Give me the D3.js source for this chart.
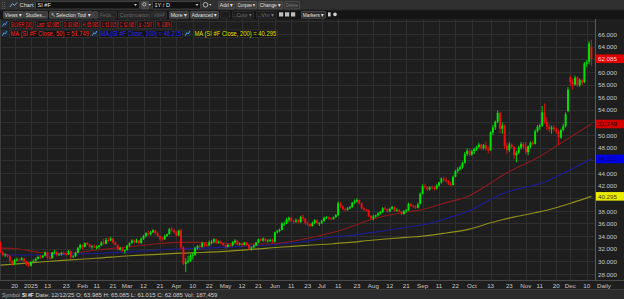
<!DOCTYPE html>
<html><head><meta charset="utf-8">
<script src="https://cdn.jsdelivr.net/npm/d3@7/dist/d3.min.js"></script>
<style>
html,body{margin:0;padding:0;background:#1e1e1e;overflow:hidden}
svg{display:block;font-family:"Liberation Sans",Arial,sans-serif}
</style></head><body>
<svg id="chart" width="624" height="299"></svg>
<script>
// ---------------- DATA ----------------
const holidays = ["2024-12-25","2025-01-01","2025-02-17","2025-04-18","2025-05-26","2025-06-19","2025-07-04","2025-09-01","2025-11-27"];
const opens = [32.9,31.4,31.0,31.1,30.8,30.0,29.6,30.2,30.3,30.2,
 30.5,30.0,29.6,29.3,29.9,30.1,30.4,30.7,30.6,30.9,
 31.4,30.6,30.5,31.4,31.5,31.0,31.1,31.3,31.2,31.1,
 31.6,30.7,30.8,31.4,32.1,32.6,32.3,32.9,32.7,32.3,
 32.4,32.2,32.3,32.5,33.0,32.8,33.4,33.3,33.6,33.0,
 32.6,31.9,32.1,31.7,31.8,32.5,32.9,33.3,33.0,33.3,
 32.9,33.6,34.0,34.5,34.3,34.6,34.9,34.5,34.0,33.6,
 33.5,34.0,34.3,35.1,34.9,34.6,34.1,34.9,32.2,29.6,
 29.9,30.1,30.9,31.0,32.1,32.4,32.3,32.9,32.6,32.5,
 33.0,33.1,33.5,33.0,33.1,32.9,32.6,32.3,32.6,32.5,
 33.0,33.3,32.7,32.8,32.6,33.0,32.6,32.0,32.2,32.5,
 33.0,33.5,33.3,33.6,33.2,33.3,33.4,33.1,34.6,34.8,
 35.0,36.0,36.0,36.6,36.9,36.4,36.3,36.5,36.2,37.0,
 36.8,36.0,35.9,35.6,36.1,36.5,36.0,36.1,36.4,36.9,
 37.0,36.8,36.7,37.0,37.3,39.2,38.7,38.3,38.2,38.4,
 38.6,39.3,39.5,39.7,39.2,38.4,38.2,38.1,37.2,36.8,
 37.1,37.3,37.6,37.8,38.4,38.3,37.9,38.3,38.6,38.0,
 38.1,37.9,37.5,38.0,38.1,39.1,38.8,38.7,38.5,39.1,
 40.7,41.9,41.8,41.4,41.7,41.6,41.5,42.0,42.5,43.1,
 42.9,42.7,42.3,42.1,43.4,44.3,44.6,44.9,45.6,47.0,
 47.5,46.9,47.4,47.8,48.1,48.5,47.9,48.4,47.8,47.6,
 50.4,51.2,52.1,53.5,51.0,51.5,48.3,47.6,48.5,48.1,
 46.8,47.2,48.0,48.6,48.1,47.3,48.2,48.8,48.6,50.6,
 51.3,51.5,53.6,52.1,51.3,50.9,51.2,50.9,50.5,49.6,
 50.8,51.4,53.8,59.2,58.4,58.0,59.1,57.9,58.7,58.4,
 61.3,61.6,63.985];
const highs = [33.2,31.6,31.3,31.2,31.0,30.2,30.4,30.6,30.5,30.7,
 30.6,30.1,29.8,30.0,30.3,30.6,30.9,31.0,31.0,31.6,
 31.5,30.9,31.5,31.8,31.6,31.3,31.5,31.6,31.4,31.8,
 31.7,31.0,31.5,32.3,32.8,32.7,33.0,33.1,32.8,32.6,
 32.7,32.5,32.6,33.2,33.6,33.7,33.8,33.9,33.7,33.2,
 32.7,32.3,32.2,31.9,32.6,33.0,33.5,33.5,33.6,33.4,
 33.8,34.2,34.6,34.9,34.8,35.1,35.0,34.7,34.1,33.9,
 34.2,34.4,35.3,35.5,35.2,34.8,35.0,35.2,32.4,30.5,
 30.9,31.2,31.4,32.3,32.6,32.7,33.1,33.0,32.9,33.3,
 33.4,33.7,33.6,33.3,33.3,33.0,32.7,32.8,32.8,33.2,
 33.5,33.4,33.0,33.0,33.1,33.1,32.7,32.4,32.7,33.1,
 33.6,33.7,33.8,33.7,33.5,33.6,33.6,34.7,35.0,35.2,
 36.2,36.3,36.9,37.1,37.0,36.6,36.8,36.7,37.2,37.4,
 36.9,36.3,36.0,36.3,36.7,36.6,36.2,36.6,37.1,37.2,
 37.1,37.0,37.1,37.5,39.5,39.4,38.9,38.5,38.6,38.8,
 39.4,39.8,40.0,39.8,39.3,38.6,38.3,38.2,37.3,37.4,
 37.4,37.8,38.0,38.6,38.7,38.4,38.5,38.8,38.7,38.4,
 38.3,38.0,38.1,38.3,39.3,39.2,39.0,38.9,39.3,40.9,
 42.2,42.3,41.9,41.9,42.0,41.9,42.2,42.6,43.3,43.4,
 43.3,42.9,42.6,43.6,44.5,44.9,45.2,45.8,47.3,47.9,
 47.8,47.7,48.0,48.3,48.8,48.6,48.6,49.0,48.2,50.6,
 51.6,52.3,53.9,53.7,52.0,51.7,48.8,48.9,48.7,48.3,
 47.5,48.3,48.9,48.9,48.9,48.4,49.0,49.1,50.9,51.6,
 51.8,54.6,55.0,52.8,51.8,51.5,51.6,51.2,50.9,51.0,
 51.8,53.6,57.6,59.4,58.9,59.4,59.3,59.0,58.9,61.6,
 61.9,64.9,65.085];
const lows = [31.3,30.8,30.7,30.6,29.8,29.3,29.4,30.0,30.0,30.1,
 29.9,29.3,29.1,29.2,29.7,29.9,30.3,30.4,30.5,30.8,
 30.4,30.3,30.4,31.2,30.8,30.9,30.9,31.0,30.9,31.0,
 30.4,30.5,30.7,31.3,31.9,31.9,32.2,32.5,32.1,32.0,
 32.1,31.9,32.0,32.4,32.6,32.7,33.1,33.2,32.8,32.5,
 31.7,31.7,31.5,31.2,31.7,32.3,32.8,32.8,32.9,32.7,
 32.8,33.4,33.8,34.0,34.1,34.5,34.2,33.8,33.3,33.2,
 33.4,33.9,34.2,34.7,34.4,33.9,34.0,31.9,29.4,28.3,
 29.7,29.9,30.3,30.9,31.8,32.0,32.2,32.3,32.3,32.4,
 32.7,32.9,32.8,32.8,32.7,32.4,32.0,32.2,32.3,32.4,
 32.8,32.5,32.5,32.3,32.5,32.4,31.8,31.7,32.1,32.4,
 32.9,33.2,33.1,33.0,33.0,33.1,32.9,33.0,34.4,34.6,
 34.9,35.6,35.9,36.2,36.2,36.0,36.1,36.0,36.1,36.4,
 35.8,35.6,35.4,35.5,35.9,35.8,35.6,35.9,36.3,36.7,
 36.6,36.5,36.6,36.9,37.2,38.5,38.1,37.9,38.0,38.2,
 38.5,39.1,39.3,39.0,38.2,38.0,37.9,37.0,36.6,36.5,
 36.9,37.1,37.4,37.7,38.1,37.7,37.8,38.2,37.9,37.9,
 37.8,37.3,37.4,37.7,38.0,38.6,38.4,38.3,38.4,39.0,
 40.6,41.5,41.1,41.2,41.4,41.2,41.4,41.8,42.3,42.6,
 42.5,42.1,41.9,42.0,43.3,44.0,44.4,44.7,45.5,46.7,
 46.6,46.7,47.0,47.5,47.9,47.6,47.7,47.5,47.1,47.5,
 50.0,50.8,51.9,50.3,50.2,47.8,47.0,47.3,47.8,46.2,
 45.7,47.0,47.7,47.8,47.0,46.8,47.9,48.4,48.5,50.4,
 50.8,51.3,51.8,50.8,50.5,50.2,50.6,50.2,48.4,49.4,
 50.6,51.2,53.6,57.8,57.2,57.8,57.6,57.6,57.9,58.2,
 60.8,61.2,61.015];
const closes = [31.5,31.0,31.1,30.8,30.0,29.7,30.2,30.3,30.2,30.5,
 30.0,29.5,29.3,29.9,30.0,30.4,30.7,30.6,30.9,31.4,
 30.6,30.5,31.4,31.5,31.0,31.1,31.3,31.2,31.1,31.6,
 30.7,30.8,31.4,32.1,32.6,32.3,32.9,32.7,32.3,32.4,
 32.2,32.3,32.5,33.0,32.8,33.4,33.3,33.6,33.0,32.6,
 31.9,32.1,31.7,31.8,32.5,32.9,33.3,33.0,33.3,32.9,
 33.6,34.0,34.5,34.3,34.6,34.9,34.5,34.0,33.6,33.5,
 34.0,34.3,35.1,34.9,34.6,34.1,34.9,32.2,29.6,29.9,
 30.1,30.9,31.0,32.1,32.4,32.3,32.9,32.6,32.5,33.0,
 33.1,33.5,33.0,33.1,32.9,32.6,32.3,32.6,32.5,33.0,
 33.3,32.7,32.8,32.6,33.0,32.6,32.0,32.2,32.5,33.0,
 33.5,33.3,33.6,33.2,33.3,33.4,33.1,34.6,34.8,35.0,
 36.0,36.0,36.6,36.9,36.4,36.3,36.5,36.2,37.0,36.8,
 36.0,35.9,35.6,36.1,36.5,36.0,36.1,36.4,36.9,37.0,
 36.8,36.7,37.0,37.3,39.2,38.7,38.3,38.2,38.4,38.6,
 39.3,39.5,39.7,39.2,38.4,38.2,38.1,37.2,36.8,37.1,
 37.3,37.6,37.8,38.4,38.3,37.9,38.3,38.6,38.0,38.1,
 37.9,37.5,38.0,38.1,39.1,38.8,38.7,38.5,39.0,40.7,
 41.9,41.8,41.4,41.7,41.6,41.5,42.0,42.5,43.1,42.9,
 42.7,42.3,42.1,43.4,44.3,44.6,44.9,45.6,47.0,47.5,
 46.9,47.4,47.8,48.1,48.5,47.9,48.4,47.8,47.6,50.4,
 51.2,52.1,53.5,51.0,51.5,48.3,47.6,48.5,48.1,46.8,
 47.2,48.0,48.6,48.1,47.3,48.2,48.8,48.6,50.6,51.3,
 51.5,53.6,52.1,51.3,50.9,51.2,50.9,50.5,49.6,50.8,
 51.4,53.3,57.2,58.4,58.0,59.1,57.9,58.7,58.2,61.3,
 61.5,64.5,62.085];

const maDates = ["2024-12-12","2024-12-23","2025-01-08","2025-01-23","2025-02-11","2025-03-04","2025-03-20","2025-04-03","2025-04-16","2025-05-07","2025-05-28","2025-06-18","2025-07-09","2025-07-18","2025-07-30","2025-08-07","2025-08-21","2025-09-02","2025-09-16","2025-09-30","2025-10-13","2025-10-20","2025-10-28","2025-11-07","2025-11-14","2025-11-21","2025-12-02","2025-12-12"];
const ma50  = [32.1,32.0,31.4,31.25,31.8,32.3,32.8,33.0,33.0,32.8,32.75,33.5,34.6,35.4,36.5,37.1,37.8,38.2,39.3,40.4,42.4,43.6,44.8,46.2,47.3,48.5,49.9,51.749];
const ma100 = [31.0,31.0,31.0,31.1,31.25,31.5,31.8,32.0,32.1,32.3,32.6,33.1,33.9,34.1,34.5,34.8,35.4,35.8,36.8,38.0,39.8,40.7,41.4,42.1,42.7,43.6,44.7,46.215];
const ma200 = [29.4,29.6,29.9,30.2,30.5,30.9,31.1,31.3,31.4,31.7,32.1,32.5,32.8,33.0,33.3,33.5,33.8,34.0,34.5,35.1,36.1,36.6,37.1,37.7,38.1,38.6,39.3,40.295];

const gridValues = [28,30,32,34,36,38,40,42,44,46,48,50,52,54,56,58,60,62,64,66,68];
const yTicks = [28,30,32,34,36,38,42,44,48,50,54,56,58,60,64,66]; // labels not hidden by value boxes
const xTickDates = ["2024-12-20","2025-01-02","2025-01-13","2025-01-23","2025-02-03","2025-02-11","2025-02-21","2025-03-03","2025-03-12","2025-03-21","2025-04-01","2025-04-10","2025-04-22","2025-05-01","2025-05-12","2025-05-21","2025-06-02","2025-06-11","2025-06-23","2025-07-01","2025-07-11","2025-07-23","2025-08-01","2025-08-12","2025-08-21","2025-09-02","2025-09-11","2025-09-22","2025-10-01","2025-10-13","2025-10-23","2025-11-03","2025-11-11","2025-11-20","2025-12-01","2025-12-10"];
const xTickLabels = ["20","2025","13","23","Feb","11","21","Mar","12","21","Apr","10","22","May","12","21","Jun","11","23","Jul","11","23","Aug","12","21","Sep","11","22","Oct","13","23","Nov","11","20","Dec","10"];

const legendQuote = ["SILVER [10]","Last: 62.085","O: 63.985","H: 65.085","L: 61.015","C: 62.085","\u0394: -2.507","%: -3.88%"];
const legendMA = ["MA (SI #F Close, 50) = 51.749","MA (SI #F Close, 100) = 46.215","MA (SI #F Close, 200) = 40.295"];
const lastValues = {last:62.085, ma50:51.749, ma100:46.215, ma200:40.295};

// ---------------- SETUP ----------------
const FONT = '"Liberation Sans",Arial,sans-serif';
const fmt = d3.utcFormat("%Y-%m-%d");
const days = d3.utcDays(new Date(Date.UTC(2024,11,12)), new Date(Date.UTC(2025,11,13)))
  .filter(d => { const w = d.getUTCDay(); return w !== 0 && w !== 6 && !holidays.includes(fmt(d)); })
  .map(fmt);

const svg = d3.select("#chart");
const PL = 0, PR = 595, PT = 19, PB = 280.5;

const x = d3.scaleBand().domain(days).range([-0.67, 592.6]);
const xc = d => x(d) + x.bandwidth() / 2;
const y = d3.scaleLinear().domain([28, 66]).range([274, 34]);

// text that is squeezed horizontally to fit a width
function fitText(parent, x0, yMid, w, label, fs, fill, bold) {
  const t = parent.append("text").attr("x",0).attr("y",0).attr("dy","0.35em")
    .attr("fill",fill).style("font-size",fs+"px").style("font-family",FONT).text(label);
  if (bold) t.style("font-weight","bold");
  const nat = t.node().getComputedTextLength();
  const s = nat > w ? w / nat : 1;
  t.attr("transform",`translate(${x0},${yMid}) scale(${s.toFixed(3)},1)`);
  return t;
}

svg.append("rect").attr("width",624).attr("height",299).attr("fill","#1e1e1e");

// grid
const grid = svg.append("g");
gridValues.forEach(v => {
  const yy = Math.round(y(v)) + 0.5;
  if (yy > PT + 1) grid.append("line").attr("x1",PL).attr("x2",PR).attr("y1",yy).attr("y2",yy).attr("stroke","#2f2f2f");
});
xTickDates.forEach(d => {
  const xx = Math.round(xc(d)) + 0.5;
  grid.append("line").attr("x1",xx).attr("x2",xx).attr("y1",PT).attr("y2",PB).attr("stroke","#2f2f2f");
});

// frame lines
svg.append("line").attr("x1",PR+0.5).attr("x2",PR+0.5).attr("y1",PT).attr("y2",PB).attr("stroke","#5a5a5a");
svg.append("line").attr("x1",0).attr("x2",624).attr("y1",PB).attr("y2",PB).attr("stroke","#4a4a4a");
svg.append("line").attr("x1",0.5).attr("x2",0.5).attr("y1",PT).attr("y2",PB).attr("stroke","#3a3a3a");

// clip
svg.append("clipPath").attr("id","clip").append("rect").attr("x",PL).attr("y",PT).attr("width",PR-PL).attr("height",PB-PT);
const plotG = svg.append("g").attr("clip-path","url(#clip)");

// MA lines
const line = d3.line().curve(d3.curveMonotoneX);
[[ma50,"#8c1a1a"],[ma100,"#1c1c98"],[ma200,"#8f8f1c"]].forEach(([arr,col]) => {
  plotG.append("path").attr("d", line(maDates.map((d,i)=>[xc(d), y(arr[i])])))
    .attr("fill","none").attr("stroke",col).attr("stroke-width",1.1);
});

// candles
const candles = days.map((d,i)=>({d,o:opens[i],h:highs[i],l:lows[i],c:closes[i]}));
const cg = plotG.append("g");
candles.forEach(k => {
  const up = k.c >= k.o;
  const col = up ? "#00e600" : "#f01010";
  const cx = xc(k.d);
  cg.append("line").attr("x1",cx).attr("x2",cx).attr("y1",y(k.h)).attr("y2",y(k.l)).attr("stroke",col).attr("stroke-width",0.9);
  const top = y(Math.max(k.o,k.c)), bot = y(Math.min(k.o,k.c));
  cg.append("rect").attr("x",cx-0.95).attr("width",1.9).attr("y",top).attr("height",Math.max(0.9,bot-top)).attr("fill",col);
});

// right axis
const yAxis = d3.axisRight(y).tickValues(yTicks).tickFormat(d3.format(".3f")).tickSize(0).tickPadding(0);
const ya = svg.append("g").attr("transform","translate(598,0)").call(yAxis);
ya.select(".domain").remove();
ya.selectAll("text").attr("fill","#c8c8c8").style("font-size","6.2px").style("font-family",FONT).attr("x",0).attr("dy","0.35em");

// value boxes
const boxes = [
  [lastValues.last,"#e00000","#ffd8d8"],
  [lastValues.ma50,"#d40000","#2a0000"],
  [lastValues.ma100,"#0000e6","#000070"],
  [lastValues.ma200,"#eaea00","#3a3a00"]
];
boxes.forEach(([v,bg,fg]) => {
  const yy = y(v);
  svg.append("rect").attr("x",596).attr("y",yy-4.3).attr("width",28).attr("height",8.6).attr("fill",bg);
  svg.append("text").attr("x",598).attr("y",yy).attr("dy","0.35em").attr("fill",fg)
    .style("font-size","6.2px").style("font-family",FONT).text(d3.format(".3f")(v));
});

// bottom axis
const xAxis = d3.axisBottom(x).tickValues(xTickDates).tickFormat((d,i)=>xTickLabels[i]).tickSize(0).tickPadding(0);
const xa = svg.append("g").attr("transform","translate(0,283.3)").call(xAxis);
xa.select(".domain").remove();
xa.selectAll("text").attr("fill","#c8c8c8").style("font-size","6.2px").style("font-family",FONT).attr("y",0).attr("dy","0.71em");
svg.append("text").attr("x",604).attr("y",283.3).attr("dy","0.71em").attr("text-anchor","middle").attr("fill","#c8c8c8")
  .style("font-size","6.2px").style("font-family",FONT).text("Daily");

// ---------------- HEADER ----------------
const hdr = svg.append("g");
hdr.append("rect").attr("x",0).attr("y",0).attr("width",624).attr("height",10).attr("fill","#303030");
hdr.append("rect").attr("x",0).attr("y",10).attr("width",624).attr("height",9).attr("fill","#151515");
hdr.append("line").attr("x1",0).attr("x2",624).attr("y1",10).attr("y2",10).attr("stroke","#222");

function btn(x0, y0, w, h, label, opt={}) {
  hdr.append("rect").attr("x",x0+0.5).attr("y",y0+0.5).attr("width",w).attr("height",h)
    .attr("fill",opt.fill||"#3c3c3c").attr("stroke",opt.stroke||"#5a5a5a").attr("stroke-width",0.6).attr("rx",0.6);
  if (label) fitText(hdr, x0+(opt.pad||1.8), y0+h/2+0.5, w-(opt.pad||1.8)-1.2, label, opt.fs||5.6, opt.color||"#e2e2e2");
}
// grip + icon
[2,4].forEach(xx=>[2,4,6,8].forEach(yy=>hdr.append("rect").attr("x",xx).attr("y",yy).attr("width",0.8).attr("height",0.8).attr("fill","#777")));
hdr.append("path").attr("d","M10,7 L12.5,3.5 L14.5,5.5 L17,2.5").attr("stroke","#7fb2e6").attr("fill","none").attr("stroke-width",0.9);
fitText(hdr, 19.5, 5.3, 14, "Chart", 6, "#dcdcdc");
btn(35,1,104,7.5,"SI #F",{fill:"#111",stroke:"#555",pad:2.5});
hdr.append("path").attr("d","M134,4 L137,4 L135.5,6 Z").attr("fill","#ccc");
btn(141,1,7,7.5,"",{fill:"#444"});
hdr.append("circle").attr("cx",144.3).attr("cy",4.3).attr("r",1.6).attr("fill","none").attr("stroke","#ddd").attr("stroke-width",0.7);
hdr.append("path").attr("d","M148.5,4 L151,4 L149.75,5.8 Z").attr("fill","#ccc");
btn(152,1,48,7.5,"1Y / D",{fill:"#111",stroke:"#555",pad:2.5});
hdr.append("path").attr("d","M195.5,4 L198.5,4 L197,6 Z").attr("fill","#ccc");
hdr.append("circle").attr("cx",205.5).attr("cy",4.8).attr("r",2.3).attr("fill","none").attr("stroke","#ccc").attr("stroke-width",0.8);
hdr.append("path").attr("d","M209,4 L211.5,4 L210.25,5.8 Z").attr("fill","#ccc");
btn(218,1,16,7.5,"Add \u25BE");
btn(236,1,20,7.5,"Compare \u25BE");
btn(258,1,24,7.5,"Change \u25BE");
btn(284,1,15,7.5,"Delete",{color:"#7a7a7a",fill:"#333"});

// toolbar row 2
btn(3,11,20,6.8,"Views \u25BE");
btn(24,11,23,6.8,"Studies...");
btn(49,11,43,6.8,"\u2196 Selection Tool \u25BE");
btn(93,11,4,6.8,"");
btn(98,11,18,6.8,"Fields...",{color:"#6a6a6a",fill:"#242424",stroke:"#3a3a3a"});
btn(118,11,33,6.8,"Continuation",{color:"#6a6a6a",fill:"#242424",stroke:"#3a3a3a"});
btn(152,11,14,6.8,"VWAP",{color:"#6a6a6a",fill:"#242424",stroke:"#3a3a3a"});
btn(169,11,19,6.8,"More \u25BE");
btn(190,11,28,6.8,"Advanced \u25BE");
btn(220,11,9,6.8,"",{fill:"#1c1c1c",stroke:"#3a3a3a"});
btn(232,11,21,6.8,"\u25A1Color \u25BE",{color:"#777",fill:"#1c1c1c",stroke:"#3a3a3a"});
btn(256,11,20,6.8,"\u25A1Vm \u25BE",{color:"#777",fill:"#1c1c1c",stroke:"#3a3a3a"});
[279,285,291].forEach(xx=>{hdr.append("rect").attr("x",xx).attr("y",12.3).attr("width",4.2).attr("height",4.2).attr("fill","#bdbdbd");});
btn(301,11,24,6.8,"Markers \u25BE",{fill:"#2c2c2c"});
hdr.append("rect").attr("x",328).attr("y",12.4).attr("width",2.6).attr("height",4).attr("fill","#cfcfcf");
hdr.append("circle").attr("cx",335).attr("cy",14.4).attr("r",1.8).attr("fill","#cfcfcf");

// ---------------- LEGEND ----------------
const lg = svg.append("g");
function icon(x0,y0){
  lg.append("rect").attr("x",x0).attr("y",y0).attr("width",6).attr("height",7).attr("fill","#1e2c3a");
  lg.append("path").attr("d",`M${x0+0.8},${y0+6} L${x0+2.5},${y0+3} L${x0+3.8},${y0+4.3} L${x0+5.5},${y0+1.2}`).attr("stroke","#5aa0e0").attr("fill","none").attr("stroke-width",0.9);
}
function legBox(x0,y0,w,label,col){
  lg.append("rect").attr("x",x0+0.5).attr("y",y0+0.5).attr("width",w).attr("height",7.4).attr("fill","#141414").attr("stroke","#3e3e3e").attr("stroke-width",0.6);
  fitText(lg, x0+1.4, y0+4.4, w-2.2, label, 6.6, col);
}
icon(1.5,20.5);
const qX = [9,35,62,81,100,118,137,155], qW = [24,25,17,18,17,17,16,16];
legendQuote.forEach((t,i)=>legBox(qX[i],20.3,qW[i],t,"#ff2424"));
icon(1.5,29.7);
legBox(9,29.5,81,legendMA[0],"#ff2424");
icon(91.5,29.7);
legBox(99,29.5,83,legendMA[1],"#2a2aff");
icon(184.5,29.7);
legBox(193,29.5,84,legendMA[2],"#e6e600");

// ---------------- STATUS BAR ----------------
const sb = svg.append("g");
sb.append("rect").attr("x",0).attr("y",289.5).attr("width",624).attr("height",9.5).attr("fill","#2c2c2c");
sb.append("line").attr("x1",0).attr("x2",624).attr("y1",289.5).attr("y2",289.5).attr("stroke","#3c3c3c");
fitText(sb, 2, 294.5, 18, "Symbol", 6.2, "#b0b0b0");
fitText(sb, 22, 294.5, 11.5, "SI #F", 6.2, "#f0f0f0", true);
fitText(sb, 35.5, 294.5, 182, "Date: 12/12/25  O: 63.985  H: 65.085  L: 61.015  C: 62.085  Vol: 187,459", 6.2, "#d0d0d0");
</script>
</body></html>
